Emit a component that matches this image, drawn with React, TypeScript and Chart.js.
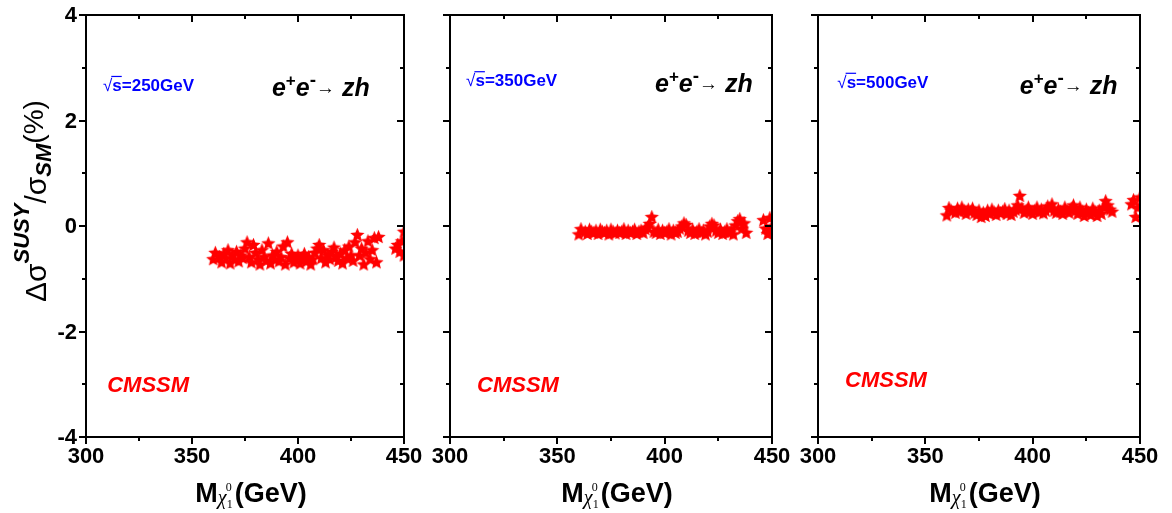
import React, { useEffect, useRef } from "react";
import { Chart, registerables } from "chart.js";
Chart.register(...registerables);

// ---------- data ----------
const xMajorTicks = [300, 350, 400, 450];
const xMinorTicks = [325, 375, 425];
const yMajorTicks = [-4, -2, 0, 2, 4];
const yMinorTicks = [-3, -1, 1, 3];

const energyLabels = ["250GeV", "350GeV", "500GeV"];
const modelLabel = "CMSSM";

const mass250 = [360,361,363,364,365,366,367,368,369,370,371,372,373,374,375,376,377,378,379,380,381,382,383,384,385,386,387,388,389,390,391,392,393,394,395,396,397,398,399,400,401,402,403,404,405,406,407,408,409,410,411,412,413,414,415,416,417,418,419,420,421,422,423,424,425,426,427,428,429,430,431,432,433,434,435,436,437,438,446,447,448,449,450,450];
const delta250 = [-0.62,-0.50,-0.58,-0.68,-0.52,-0.60,-0.45,-0.70,-0.55,-0.62,-0.48,-0.66,-0.55,-0.60,-0.42,-0.30,-0.58,-0.68,-0.35,-0.50,-0.62,-0.72,-0.45,-0.58,-0.65,-0.32,-0.70,-0.55,-0.62,-0.48,-0.66,-0.58,-0.38,-0.72,-0.30,-0.60,-0.52,-0.68,-0.62,-0.55,-0.70,-0.60,-0.52,-0.66,-0.58,-0.72,-0.62,-0.50,-0.42,-0.35,-0.60,-0.45,-0.68,-0.55,-0.62,-0.48,-0.40,-0.58,-0.65,-0.52,-0.70,-0.45,-0.60,-0.38,-0.55,-0.65,-0.30,-0.16,-0.55,-0.42,-0.72,-0.50,-0.28,-0.62,-0.45,-0.22,-0.68,-0.20,-0.42,-0.35,-0.48,-0.28,-0.10,-0.55];

const mass350 = [360,361,363,364,365,366,367,368,369,370,371,372,373,374,375,376,377,378,379,380,381,382,383,384,385,386,387,388,389,390,391,392,393,394,395,396,397,398,399,400,401,402,403,404,405,406,407,408,409,410,411,412,413,414,415,416,417,418,419,420,421,422,423,424,425,426,427,428,429,430,431,432,433,434,435,436,437,438,446,447,448,449,450,450];
const delta350 = [-0.15,-0.05,-0.10,-0.14,-0.06,-0.10,-0.12,-0.08,-0.14,-0.06,-0.10,-0.12,-0.08,-0.15,-0.06,-0.10,-0.13,-0.08,-0.12,-0.10,-0.05,-0.14,-0.08,-0.12,-0.10,-0.06,-0.14,-0.10,-0.08,-0.12,-0.05,-0.02,0.05,0.18,-0.10,-0.12,-0.06,-0.14,-0.08,-0.12,-0.10,-0.05,-0.15,-0.08,-0.12,-0.10,-0.04,0.00,0.06,0.03,-0.08,-0.12,-0.06,-0.14,-0.10,-0.05,-0.12,-0.08,-0.15,-0.10,0.00,0.05,0.02,-0.08,-0.12,-0.06,-0.14,-0.10,-0.05,-0.12,-0.08,-0.15,0.02,0.10,0.14,-0.04,0.06,-0.12,0.12,-0.04,-0.14,0.16,0.00,-0.10];

const mass500 = [360,361,362,364,365,366,367,368,369,370,371,372,373,374,375,376,377,378,379,380,381,382,383,384,385,386,387,388,389,390,391,392,393,394,395,396,397,398,399,400,401,402,403,404,405,406,407,408,409,410,411,412,413,414,415,416,417,418,419,420,421,422,423,424,425,426,427,428,429,430,431,432,433,434,435,436,437,446,447,448,449,450];
const delta500 = [0.21,0.35,0.30,0.26,0.34,0.28,0.36,0.30,0.24,0.32,0.28,0.34,0.26,0.22,0.30,0.18,0.26,0.20,0.30,0.24,0.32,0.27,0.22,0.30,0.25,0.28,0.33,0.24,0.30,0.22,0.28,0.32,0.40,0.58,0.34,0.26,0.30,0.36,0.28,0.24,0.30,0.36,0.27,0.32,0.25,0.30,0.38,0.34,0.42,0.30,0.26,0.32,0.28,0.24,0.36,0.30,0.26,0.34,0.40,0.30,0.24,0.36,0.28,0.20,0.32,0.26,0.22,0.34,0.28,0.20,0.30,0.24,0.36,0.48,0.40,0.32,0.28,0.42,0.50,0.18,0.36,0.55];

// ---------- layout ----------
type Panel = {
  mass: number[];
  delta: number[];
  energy: string;
  canvasLeft: number;
  canvasWidth: number;
  padLeft: number;
  padRight: number;
  showYLabels: boolean;
  energyAt: [number, number];
  processAt: [number, number];
  modelAt: [number, number];
};

const panels: Panel[] = [
  { mass: mass250, delta: delta250, energy: energyLabels[0], canvasLeft: 0, canvasWidth: 440, padLeft: 86, padRight: 36, showYLabels: true,
    energyAt: [308, 2.56], processAt: [387.7, 2.46], modelAt: [310, -3.15] },
  { mass: mass350, delta: delta350, energy: energyLabels[1], canvasLeft: 420, canvasWidth: 380, padLeft: 30, padRight: 28, showYLabels: false,
    energyAt: [307.5, 2.65], processAt: [395.5, 2.54], modelAt: [312.6, -3.15] },
  { mass: mass500, delta: delta500, energy: energyLabels[2], canvasLeft: 790, canvasWidth: 382, padLeft: 28, padRight: 32, showYLabels: false,
    energyAt: [309, 2.62], processAt: [394, 2.5], modelAt: [312.6, -3.05] },
];

const CANVAS_H = 513;
const PAD_TOP = 15;
const PAD_BOTTOM = 76;
const SANS = "'Liberation Sans', Arial, sans-serif";
const SERIF = "'Liberation Serif', 'Times New Roman', serif";

type Seg = { t: string; f: string; dy?: number; c?: string };

function drawRich(ctx: CanvasRenderingContext2D, segs: Seg[], x: number, y: number, color: string) {
  let cx = x;
  ctx.textAlign = "left";
  ctx.textBaseline = "alphabetic";
  for (const s of segs) {
    ctx.font = s.f;
    ctx.fillStyle = s.c || color;
    ctx.fillText(s.t, cx, y + (s.dy || 0));
    cx += ctx.measureText(s.t).width;
  }
  return cx - x;
}

function makeStar(r: number): HTMLCanvasElement {
  const c = document.createElement("canvas");
  const s = Math.ceil(r * 2 + 2);
  c.width = s;
  c.height = s;
  const g = c.getContext("2d")!;
  g.fillStyle = "#ff0000";
  g.beginPath();
  for (let i = 0; i < 10; i++) {
    const a = -Math.PI / 2 + (i * Math.PI) / 5;
    const rad = i % 2 === 0 ? r : r * 0.45;
    const px = s / 2 + rad * Math.cos(a);
    const py = s / 2 + 0.8 + rad * Math.sin(a);
    if (i === 0) g.moveTo(px, py);
    else g.lineTo(px, py);
  }
  g.closePath();
  g.fill();
  return c;
}

function PanelChart({ panel }: { panel: Panel }) {
  const ref = useRef<HTMLCanvasElement | null>(null);
  useEffect(() => {
    if (!ref.current) return;
    const star = makeStar(7.5);
    const decor = {
      id: "decor",
      afterDraw(chart: any) {
        const ctx: CanvasRenderingContext2D = chart.ctx;
        const { left, right, top, bottom } = chart.chartArea;
        const xs = chart.scales.x;
        const ys = chart.scales.y;
        ctx.save();
        ctx.strokeStyle = "#000";
        ctx.lineWidth = 2;
        ctx.strokeRect(left, top, right - left, bottom - top);
        ctx.beginPath();
        const xt = [...xMajorTicks.map((v) => [v, 7]), ...xMinorTicks.map((v) => [v, 4])];
        for (const [v, len] of xt) {
          const px = Math.round(xs.getPixelForValue(v));
          ctx.moveTo(px, bottom);
          ctx.lineTo(px, bottom + len);
          ctx.moveTo(px, top);
          ctx.lineTo(px, top + len);
        }
        const yt = [...yMajorTicks.map((v) => [v, 7]), ...yMinorTicks.map((v) => [v, 4])];
        for (const [v, len] of yt) {
          const py = Math.round(ys.getPixelForValue(v));
          ctx.moveTo(left - len, py);
          ctx.lineTo(left, py);
          ctx.moveTo(right, py);
          ctx.lineTo(right - len, py);
        }
        ctx.stroke();

        // tick labels
        ctx.fillStyle = "#000";
        ctx.font = `bold 22px ${SANS}`;
        ctx.textAlign = "center";
        ctx.textBaseline = "top";
        for (const v of xMajorTicks) {
          ctx.fillText(String(v), xs.getPixelForValue(v), bottom + 9);
        }
        if (panel.showYLabels) {
          ctx.textAlign = "right";
          ctx.textBaseline = "middle";
          for (const v of yMajorTicks) {
            ctx.fillText(String(v), left - 9, ys.getPixelForValue(v) + 1);
          }
          // y title (rotated)
          const segs: Seg[] = [
            { t: "Δσ", f: `30px ${SANS}` },
            { t: "SUSY", f: `bold italic 22px ${SANS}`, dy: -17 },
            { t: "/σ", f: `30px ${SANS}` },
            { t: "SM", f: `bold italic 22px ${SANS}`, dy: 5 },
            { t: "(%)", f: `28px ${SANS}`, dy: -3 },
          ];
          ctx.save();
          ctx.translate(46, 302);
          ctx.rotate(-Math.PI / 2);
          drawRich(ctx, segs, 0, 0, "#000");
          ctx.restore();
        }

        // x title
        const cx = (left + right) / 2 + 6;
        const base = bottom + 65;
        ctx.font = `bold 27px ${SANS}`;
        const wM = ctx.measureText("M").width;
        ctx.font = `italic 20px ${SERIF}`;
        const wChi = ctx.measureText("χ").width;
        ctx.font = `12px ${SERIF}`;
        const wSub = ctx.measureText("1").width;
        ctx.font = `bold 27px ${SANS}`;
        const wG = ctx.measureText("(GeV)").width;
        const total = wM + wChi + wSub + 2 + wG;
        let x0 = cx - total / 2;
        ctx.textAlign = "left";
        ctx.textBaseline = "alphabetic";
        ctx.fillStyle = "#000";
        ctx.font = `bold 27px ${SANS}`;
        ctx.fillText("M", x0, base);
        x0 += wM;
        ctx.font = `italic 20px ${SERIF}`;
        ctx.fillText("χ", x0, base + 2);
        x0 += wChi;
        ctx.font = `12px ${SERIF}`;
        ctx.fillText("1", x0, base + 6);
        ctx.fillText("0", x0 - 1, base - 11);
        x0 += wSub + 2;
        ctx.font = `bold 27px ${SANS}`;
        ctx.fillText("(GeV)", x0, base);

        // energy annotation with radical sign and overline
        const ex = xs.getPixelForValue(panel.energyAt[0]);
        const ey = ys.getPixelForValue(panel.energyAt[1]);
        ctx.fillStyle = "#0000ff";
        ctx.font = `17px ${SANS}`;
        ctx.fillText("√", ex, ey);
        const wRoot = ctx.measureText("√").width;
        ctx.font = `bold 17px ${SANS}`;
        ctx.fillText("s", ex + wRoot, ey);
        const wS = ctx.measureText("s").width;
        ctx.strokeStyle = "#0000ff";
        ctx.lineWidth = 1.2;
        ctx.beginPath();
        ctx.moveTo(ex + wRoot - 1, ey - 14.5);
        ctx.lineTo(ex + wRoot + wS, ey - 14.5);
        ctx.stroke();
        ctx.fillText("=" + panel.energy, ex + wRoot + wS, ey);

        drawRich(
          ctx,
          [
            { t: "e", f: `bold italic 25px ${SANS}` },
            { t: "+", f: `bold 17px ${SANS}`, dy: -10 },
            { t: "e", f: `bold italic 25px ${SANS}` },
            { t: "-", f: `bold 19px ${SANS}`, dy: -10 },
            { t: "→", f: `19px ${SANS}`, dy: -2 },
            { t: " zh", f: `bold italic 25px ${SANS}` },
          ],
          xs.getPixelForValue(panel.processAt[0]),
          ys.getPixelForValue(panel.processAt[1]),
          "#000"
        );
        drawRich(
          ctx,
          [{ t: modelLabel, f: `bold italic 22px ${SANS}` }],
          xs.getPixelForValue(panel.modelAt[0]),
          ys.getPixelForValue(panel.modelAt[1]),
          "#ff0000"
        );
        ctx.restore();
      },
    };

    const chart = new Chart(ref.current, {
      type: "scatter",
      data: {
        datasets: [
          {
            data: panel.mass.map((m, i) => ({ x: m, y: panel.delta[i] })),
            pointStyle: star as any,
            pointRadius: 8,
            backgroundColor: "#ff0000",
            borderColor: "#ff0000",
            showLine: false,
          },
        ],
      },
      options: {
        responsive: false,
        animation: false,
        devicePixelRatio: 1,
        layout: {
          padding: { left: panel.padLeft, right: panel.padRight, top: PAD_TOP, bottom: PAD_BOTTOM },
        },
        plugins: { legend: { display: false }, tooltip: { enabled: false } },
        scales: {
          x: { type: "linear", min: 300, max: 450, display: false },
          y: { type: "linear", min: -4, max: 4, display: false },
        },
      },
      plugins: [decor],
    });
    return () => chart.destroy();
  }, [panel]);

  return (
    <canvas
      ref={ref}
      width={panel.canvasWidth}
      height={CANVAS_H}
      style={{
        position: "absolute",
        left: panel.canvasLeft,
        top: 0,
        width: panel.canvasWidth,
        height: CANVAS_H,
      }}
    />
  );
}

export default function App() {
  return (
    <div style={{ position: "absolute", left: 0, top: 0, width: 1172, height: 513, background: "#fff" }}>
      {panels.map((p, i) => (
        <PanelChart key={i} panel={p} />
      ))}
    </div>
  );
}
